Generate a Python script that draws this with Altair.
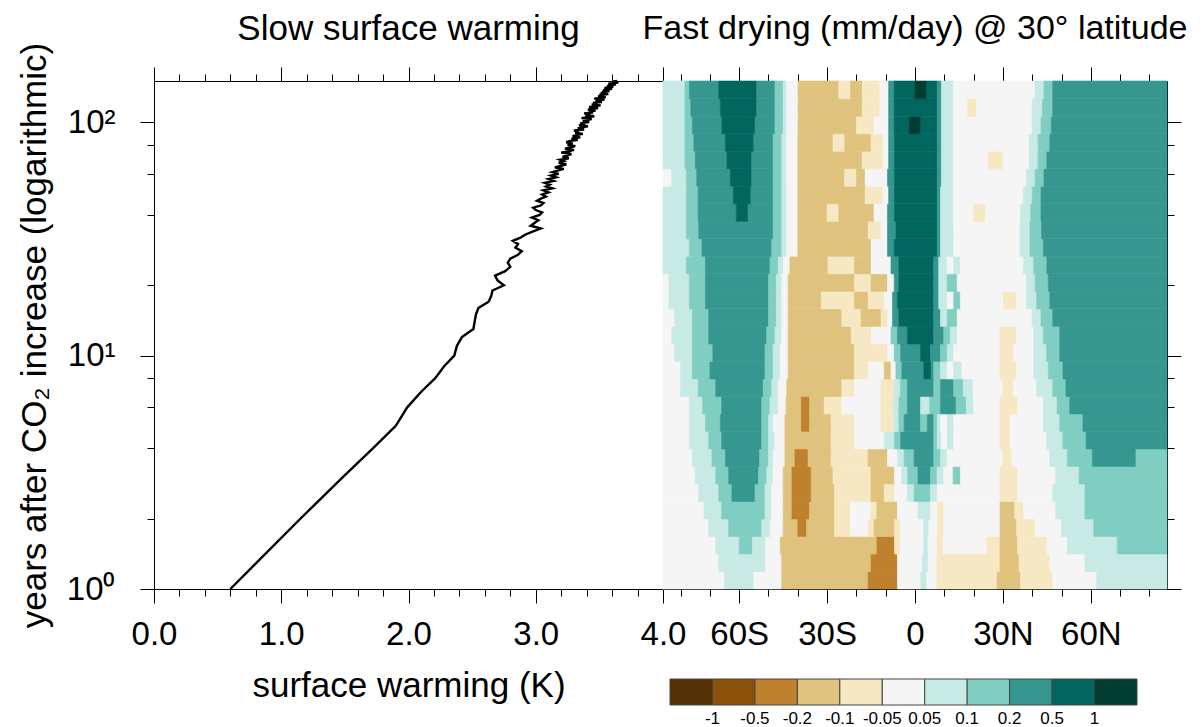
import altair as alt
import pandas as pd

FONT = "Liberation Sans"

# ---------------- left panel: global-mean surface warming ----------------
YEARS = list(range(1, 151))
WARMING = [
    0.60, 1.15, 1.48, 1.72, 1.90, 1.99, 2.10, 2.21, 2.28, 2.36,
    2.38, 2.42, 2.51, 2.52, 2.53, 2.55, 2.63, 2.65, 2.66, 2.75,
    2.70, 2.68, 2.76, 2.80, 2.78, 2.80, 2.86, 2.89, 2.84, 2.86,
    2.82, 2.88, 2.92, 2.98, 3.04, 2.96, 2.99, 3.02, 2.97, 3.03,
    3.05, 3.00, 2.98, 3.04, 3.06, 3.01, 3.04, 3.08, 3.05, 3.10,
    3.06, 3.13, 3.08, 3.11, 3.07, 3.14, 3.10, 3.16, 3.12, 3.18,
    3.13, 3.17, 3.22, 3.15, 3.20, 3.24, 3.18, 3.22, 3.19, 3.26,
    3.21, 3.25, 3.28, 3.20, 3.26, 3.30, 3.23, 3.27, 3.31, 3.25,
    3.29, 3.24, 3.27, 3.33, 3.28, 3.35, 3.29, 3.32, 3.37, 3.31,
    3.34, 3.30, 3.38, 3.33, 3.36, 3.41, 3.34, 3.39, 3.35, 3.42,
    3.37, 3.40, 3.44, 3.36, 3.41, 3.46, 3.39, 3.43, 3.38, 3.45,
    3.42, 3.47, 3.41, 3.44, 3.49, 3.42, 3.46, 3.51, 3.44, 3.48,
    3.45, 3.52, 3.47, 3.50, 3.54, 3.46, 3.50, 3.55, 3.49, 3.53,
    3.50, 3.57, 3.51, 3.55, 3.52, 3.58, 3.53, 3.56, 3.60, 3.54,
    3.58, 3.61, 3.56, 3.60, 3.63, 3.57, 3.62, 3.65, 3.60, 3.64,
]

K_TICKS = [0.0, 0.2, 0.4, 0.6, 0.8, 1.0, 1.2, 1.4, 1.6, 1.8, 2.0, 2.2, 2.4,
           2.6, 2.8, 3.0, 3.2, 3.4, 3.6, 3.8, 4.0]
YEAR_TICKS = [1, 2, 4, 6, 8, 10, 20, 40, 60, 80, 100]
LAT_TICKS = [-80, -70, -60, -50, -40, -30, -20, -10, 0, 10, 20, 30, 40, 50, 60, 70, 80]

# ---------------- right panel: precipitation change (filled contours) -------
LAT_RANGE = [-86, 86]
YEAR_EDGES = [1.0, 1.189, 1.413, 1.679, 1.995, 2.371, 2.818, 3.350, 3.981, 4.732,
              5.623, 6.683, 7.943, 9.441, 11.22, 13.34, 15.85, 18.84, 22.39, 26.61,
              31.62, 37.58, 44.67, 53.09, 63.10, 74.99, 89.13, 105.9, 125.9, 150.0]
# each row (bottom -> top): "class:end_latitude" runs starting at -86
ROW_RUNS = [
    "5:-65 6:-55 5:-45.5 3:-16 2:-6 5:2 6:4 5:7.5 4:28 3:36 4:47 5:62 6:86",
    "5:-67 6:-51 5:-45.5 3:-15 2:-6 5:2.5 6:4.5 5:7.5 4:29 3:35.5 4:46 5:58 6:86",
    "5:-68 6:-60 7:-55.5 6:-51 5:-46 3:-13 2:-7 4:-5 5:3 6:4.5 5:7.5 4:9.5 5:24.5 4:29 3:35 4:45 5:52 6:69 7:86",
    "5:-70.4 6:-63.6 7:-52.3 6:-49.5 5:-45 3:-40 2:-37 3:-27.5 4:-22 5:-16 4:-14 3:-7 4:-5 5:3 6:4.7 5:7.6 4:9.8 5:29 3:34.7 4:41 5:50 6:61 7:86",
    "5:-72 6:-66 7:-51.2 6:-49 5:-45 3:-42 2:-36 3:-27.5 4:-22 5:-15 4:-13 3:-6 5:1 6:5.3 5:7.6 4:9.8 5:29 3:34 4:37 5:48 6:58 7:86",
    "5:-73.8 6:-67 7:-62.5 8:-54.6 7:-51.2 6:-49 5:-45 3:-42 2:-35.4 3:-27.5 4:-15 3:-10.5 4:-7 5:-2.6 6:-0.3 7:5.3 6:7.6 5:29 4:35 5:47 6:58 7:86",
    "5:-75 6:-68 7:-63.6 8:-53.4 7:-50.6 6:-48.5 5:-45 3:-42 2:-35.4 3:-28 4:-15 3:-7 5:-4.5 6:-2.5 7:1 8:5.3 7:7.5 6:9.8 5:13 7:15.5 5:29 4:35 5:48 6:56 7:86",
    "5:-76 6:-69.3 7:-64.7 8:-53 7:-50 6:-48.4 5:-44.4 3:-41 2:-36.5 3:-28.6 4:-16 3:-9.4 5:-6 6:-3.7 7:-0.3 8:6.4 7:8.7 6:11 5:30 4:33 5:46 6:52 7:60.5 8:75.4 7:86",
    "5:-77 6:-70.4 7:-66 8:-52.3 7:-50 6:-47.8 5:-44.4 3:-28.6 4:-20.7 5:-10.5 6:-7 7:-4.9 8:6.4 7:7.6 6:9 5:11 6:13.2 5:29 4:32.5 5:44.9 6:50.5 7:58.4 8:86",
    "5:-77 6:-71.5 7:-66.4 8:-52.3 7:-50 6:-48.4 5:-44.4 3:-38.8 2:-36 3:-28.6 4:-20.7 5:-11.6 4:-7.1 6:-5.5 7:-3.7 8:1.9 7:4.2 8:6.4 7:7.6 6:8.7 5:11 6:13.2 5:29 4:32.5 5:43.8 6:49.4 7:57.3 8:86",
    "5:-77 6:-72.5 7:-66 8:-52.3 7:-49.5 6:-46.7 5:-44 3:-38.8 2:-36 3:-31 4:-25 5:-11.6 4:-7.5 6:-5.5 7:-2.6 8:1.9 6:5 7:8.7 8:14 7:17.5 6:20 5:29 4:35 5:43.8 6:48.5 7:52.8 8:86",
    "5:-80 6:-74 7:-68 8:-51.8 7:-48.9 6:-46.7 5:-43.8 3:-25 4:-20.7 5:-11.6 4:-7.1 6:-5 7:-2.6 8:6.4 7:8.7 8:13.2 7:16.5 6:19.8 5:30 4:33.5 5:41.5 6:47 7:51.5 8:86",
    "5:-80 6:-76 7:-70 8:-51.2 7:-48.4 6:-46 5:-43.3 3:-20.7 4:-16 5:-10.5 3:-8.2 5:-6.5 7:-4.5 8:3 9:5.5 8:6.4 7:8.7 6:11 5:13.2 6:16 5:29 4:34.7 5:40.5 6:45.5 7:50.5 8:86",
    "5:-82 6:-76 7:-69 8:-51.2 7:-48.4 6:-46 5:-43.3 3:-20.7 4:-9.4 5:-7.1 7:-4.9 8:1.9 9:5.3 8:8.7 7:11 6:13.2 5:29 4:33.5 5:40.5 6:44.9 7:49.4 8:86",
    "5:-83 6:-76 7:-70.4 8:-50.6 7:-47.8 6:-45.5 5:-43.3 3:-21.8 4:-15 5:-8.2 7:-6 8:-2.6 9:6.4 8:9.8 7:12 6:14.4 5:29 4:34.7 5:40.5 6:43.8 7:49.4 8:86",
    "5:-82 6:-76 7:-70.4 8:-50 7:-47.3 6:-45.5 5:-43.3 3:-25 4:-18.4 3:-11.6 4:-9.4 5:-7.7 8:-5.5 9:6.4 8:8.7 6:11 7:14.4 5:40 6:43 7:47 8:86",
    "5:-84 6:-77 7:-71.5 8:-50 7:-47.3 6:-45.5 5:-43.3 3:-32 4:-20.7 3:-16 4:-10.5 5:-7.7 8:-6 9:6.4 8:8.1 6:11 5:13.2 7:15.5 5:30.2 4:34.7 5:38 6:41.5 7:46 8:86",
    "5:-84 6:-77 7:-71.5 8:-50 7:-47.3 6:-45.5 5:-43.3 3:-20.7 4:-15 3:-9.4 5:-7.1 8:-5.5 9:6.4 8:8.1 6:11 7:14.4 5:38 6:41 7:45.5 8:86",
    "6:-78 7:-71.5 8:-49.5 7:-46.7 6:-45 5:-42.7 3:-29.7 4:-20.7 3:-15 5:-8.2 8:-5.5 9:6.4 8:8.1 6:11 5:13.2 6:15.5 5:37 6:40.5 7:45 8:86",
    "6:-77 7:-72.7 8:-48.9 7:-45.5 6:-43.8 5:-40 3:-15 5:-9.4 8:-7.1 9:7.6 8:8.7 6:13.2 5:35.8 6:39.2 7:43.8 8:86",
    "6:-78 7:-73.8 8:-48.4 7:-45.5 6:-43.8 5:-40 3:-16 4:-11.6 5:-9.4 8:-6.5 9:7.6 8:8.7 6:13.2 5:35.8 6:39.2 7:43.2 8:86",
    "6:-78 7:-74 8:-61 9:-57 8:-48.4 7:-45.5 6:-43.8 5:-40 3:-30 4:-26 3:-14 5:-9.4 8:-7 9:7.6 8:8.7 6:13 5:20 4:24 5:36 6:39.5 7:43 8:86",
    "6:-78 7:-74 8:-62 9:-56 8:-48.4 7:-45.5 6:-43.8 5:-40 3:-17 4:-11 5:-9 8:-7 9:7.6 8:8.7 6:13 5:37 6:40 7:43 8:86",
    "5:-83 6:-78 7:-74.5 8:-63 9:-55.7 8:-48.4 7:-45.5 6:-44 5:-40 3:-24 4:-20 3:-17 5:-9.4 8:-7 9:7.6 8:9 6:13 5:38 6:41 7:44 8:86",
    "6:-78.5 7:-75 8:-64.2 9:-55.7 8:-48.4 7:-45.5 6:-44 5:-40 3:-18 4:-11 5:-9 8:-7 9:7.6 8:9 6:13 5:25 4:30 5:39 6:42 7:45 8:86",
    "6:-78.5 7:-75.5 8:-64.7 9:-55 8:-48.4 7:-45.5 6:-44 5:-40 3:-28 4:-24 3:-15 4:-11 5:-9 8:-7 9:7.6 8:9 6:13 5:39 6:42 7:46 8:86",
    "6:-78.5 7:-76 8:-65.9 9:-54.6 8:-47.8 7:-45 6:-43.8 5:-39.9 3:-20 4:-14 5:-9 8:-7.1 9:-2 10:2 9:7.6 8:9 6:13 5:40 6:43 7:46.5 8:86",
    "6:-78.5 7:-76.5 8:-66.4 9:-54 8:-47.8 7:-45 6:-43.8 5:-39.9 3:-18 4:-12 5:-9 8:-7.1 9:7.6 8:9 6:13 5:18 4:21 5:40 6:43.5 7:47 8:86",
    "6:-78.5 7:-77 8:-67 9:-54 8:-47.8 7:-45 6:-43.8 5:-39.9 3:-26 4:-22 3:-18 4:-12 5:-9 8:-7.1 9:0 10:4 9:7.6 8:9 6:13 5:41 6:44 7:47 8:86",
]
# contour classes 0..10 (class k lies between LEVEL_LABELS[k-1] and LEVEL_LABELS[k])
CLASS_BREAKS = [1, 2, 3, 4, 5, 6, 7, 8, 9, 10]
LEVEL_LABELS = ["-1", "-0.5", "-0.2", "-0.1", "-0.05", "0.05", "0.1", "0.2", "0.5", "1"]
COLORS = ["#543005", "#8c510a", "#bf812d", "#dfc27d", "#f6e8c3", "#f5f5f5",
          "#c7eae5", "#80cdc1", "#35978f", "#01665e", "#003c30"]

cells = []
for i, row in enumerate(ROW_RUNS):
    start = LAT_RANGE[0]
    for tok in row.split():
        c, end = tok.split(":")
        cells.append({"lat0": start, "lat1": float(end), "y0": YEAR_EDGES[i],
                      "y1": YEAR_EDGES[i + 1], "c": int(c)})
        start = float(end)
cells_df = pd.DataFrame(cells)
line_df = pd.DataFrame({"year": YEARS, "warming": WARMING})

MAJ, MIN = 14, 7
tick_k = {"condition": {"test": "datum.value % 1 === 0", "value": MAJ}, "value": MIN}
tick_lat = {"condition": {"test": "datum.value % 30 === 0", "value": MAJ}, "value": MIN}
tick_yr = {"condition": {"test": "datum.value === 1 || datum.value === 10 || datum.value === 100",
                         "value": MAJ}, "value": MIN}

W_L, W_R, H = 509, 504, 508
k_scale = alt.Scale(domain=[0, 4], nice=False, zero=False)
lat_scale = alt.Scale(domain=LAT_RANGE, nice=False, zero=False)
yr_scale = alt.Scale(type="log", domain=[1, 150], nice=False)
color_scale = alt.Scale(type="threshold", domain=CLASS_BREAKS, range=COLORS)

common_axis = dict(labelFont=FONT, titleFont=FONT, labelFontSize=33, titleFontSize=35,
                   titleFontWeight="normal", labelColor="black", titleColor="black",
                   domainColor="black", tickColor="black", tickWidth=1, domainWidth=1,
                   grid=False, labelOverlap=False, labelFlush=False)

line = alt.Chart(line_df).mark_line(color="black", strokeWidth=2.4).encode(
    x=alt.X("warming:Q", scale=k_scale, axis=alt.Axis(
        values=K_TICKS, tickSize=tick_k, title="surface warming (K)",
        labelExpr="datum.value % 1 === 0 ? format(datum.value, '.1f') : ''",
        labelPadding=15, titlePadding=17, **common_axis)),
    y=alt.Y("year:Q", scale=yr_scale, axis=alt.Axis(
        values=YEAR_TICKS, tickSize=tick_yr, title="years after CO\u2082 increase (logarithmic)",
        labelExpr="datum.value === 1 ? '10\u2070' : datum.value === 10 ? '10\u00b9' : datum.value === 100 ? '10\u00b2' : ''",
        labelPadding=25, titlePadding=14, **common_axis)),
    order="year:Q",
)
top_left = alt.Chart(pd.DataFrame({"t": K_TICKS})).mark_rule(opacity=0).encode(
    x=alt.X("t:Q", scale=k_scale, axis=alt.Axis(
        orient="top", values=K_TICKS, tickSize=tick_k, labels=False, title=None,
        **common_axis)),
)
left = alt.layer(line, top_left).resolve_axis(x="independent").properties(
    width=W_L, height=H,
    title=alt.TitleParams("Slow surface warming", font=FONT, fontSize=35,
                          fontWeight="normal", color="black", anchor="middle",
                          frame="group", offset=-5),
)

heat = alt.Chart(cells_df).mark_rect(strokeWidth=0.6).encode(
    x=alt.X("lat0:Q", scale=lat_scale, axis=alt.Axis(
        values=LAT_TICKS, tickSize=tick_lat, title=None,
        labelExpr="datum.value % 30 !== 0 ? '' : datum.value === 0 ? '0' : datum.value < 0 ? (-datum.value) + 'S' : datum.value + 'N'",
        labelPadding=15, **common_axis)),
    x2="lat1:Q",
    y=alt.Y("y0:Q", scale=yr_scale, axis=alt.Axis(
        orient="right", values=YEAR_TICKS, tickSize=tick_yr, labels=False, title=None,
        **common_axis)),
    y2="y1:Q",
    color=alt.Color("c:Q", scale=color_scale,
                    legend=alt.Legend(type="gradient", orient="none", direction="horizontal",
                                      legendX=W_L + 7, legendY=598, title=None, padding=0,
                                      gradientLength=467, gradientThickness=26,
                                      gradientStrokeColor="#444", gradientStrokeWidth=1,
                                      labelExpr="datum.value >= 1 && datum.value <= 10 ? "
                                                + str(LEVEL_LABELS) + "[datum.value - 1] : ''",
                                      labelFont=FONT, labelFontSize=17, labelColor="black",
                                      labelAlign="center", labelOverlap=False, labelOffset=6)),
    stroke=alt.Color("c:Q", scale=color_scale, legend=None),
)
top_right = alt.Chart(pd.DataFrame({"t": LAT_TICKS})).mark_rule(opacity=0).encode(
    x=alt.X("t:Q", scale=lat_scale, axis=alt.Axis(
        orient="top", values=LAT_TICKS, tickSize=tick_lat, labels=False, title=None,
        **common_axis)),
)
right = alt.layer(heat, top_right).resolve_axis(x="independent").properties(
    width=W_R, height=H,
    title=alt.TitleParams("Fast drying (mm/day) @ 30\u00b0 latitude", font=FONT, fontSize=34,
                          fontWeight="normal", color="black", anchor="middle",
                          frame="group", offset=21),
)

chart = alt.hconcat(left, right, spacing=0, bounds="flush").properties(
    padding={"left": 8, "top": 3, "right": 0, "bottom": 0}
).configure_view(stroke="black", strokeWidth=1).configure(background="white")

chart.save("out.html", embed_options={"renderer": "svg", "actions": False})
